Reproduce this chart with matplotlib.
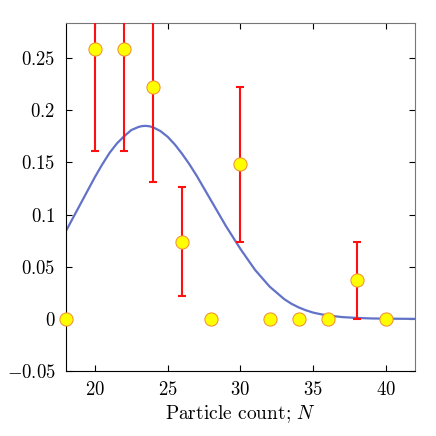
import numpy as np
import matplotlib
matplotlib.use("Agg")
import matplotlib.pyplot as plt

plt.rcParams['font.family'] = 'serif'
plt.rcParams['font.serif'] = ['cmr10']
plt.rcParams['mathtext.fontset'] = 'cm'
plt.rcParams['axes.formatter.use_mathtext'] = True

# measured fractions (k/27) and their errors
particle_n = [18, 20, 22, 24, 26, 28, 30, 32, 34, 36, 38, 40]
fraction = [0.0, 0.259, 0.259, 0.222, 0.074, 0.0, 0.148, 0.0, 0.0, 0.0, 0.037, 0.0]
frac_err = [0.0, 0.098, 0.098, 0.091, 0.052, 0.0, 0.074, 0.0, 0.0, 0.0, 0.037, 0.0]

# model curve
curve_n = [18, 18.5, 19, 19.5, 20, 20.5, 21, 21.5, 22, 22.5, 23, 23.25, 23.5, 23.75,
           24, 24.5, 25, 25.5, 26, 26.5, 27, 27.5, 28, 28.5, 29, 29.5, 30, 30.5,
           31, 31.5, 32, 32.5, 33, 33.5, 34, 34.5, 35, 35.5, 36, 37, 38, 39, 40,
           41, 42]
curve_p = [0.084, 0.097, 0.110, 0.123, 0.136, 0.148, 0.159, 0.168, 0.175, 0.181,
           0.1840, 0.1848, 0.1850, 0.1846, 0.1836, 0.180, 0.1745, 0.167, 0.158,
           0.148, 0.137, 0.125, 0.113, 0.101, 0.089, 0.078, 0.067, 0.057, 0.047,
           0.039, 0.031, 0.025, 0.019, 0.0145, 0.011, 0.0082, 0.006, 0.0045,
           0.0033, 0.0017, 0.0009, 0.0004, 0.0002, 0.0001, 0.0]

fig = plt.figure(figsize=(4.36, 4.36), dpi=100)
ax = fig.add_axes([0.151, 0.149, 0.801, 0.798])

ax.plot(curve_n, curve_p, color='#6272c8', lw=1.6, zorder=2,
        solid_joinstyle='round')

yerr = np.array(frac_err)
mask = yerr > 0
ax.errorbar(np.array(particle_n)[mask], np.array(fraction)[mask], yerr=yerr[mask],
            fmt='none', ecolor='#ff1010', elinewidth=1.5, capsize=2.6,
            capthick=1.5, zorder=3)
ax.plot(particle_n, fraction, 'o', ms=9.5, mfc='#ffff00', mec='#f08a30',
        mew=0.7, zorder=4, clip_on=False)

ax.set_xlim(18, 42)
ax.set_ylim(-0.05, 0.2835)
ax.set_xticks([20, 25, 30, 35, 40])
ax.set_yticks([-0.05, 0, 0.05, 0.1, 0.15, 0.2, 0.25])
ax.set_yticklabels(['$-0.05$', '$0$', '$0.05$', '$0.1$', '$0.15$', '$0.2$', '$0.25$'])
ax.set_xticklabels(['$20$', '$25$', '$30$', '$35$', '$40$'])
ax.tick_params(direction='in', top=True, right=True, length=4, width=0.8,
               labelsize=13.5, pad=7.5)
ax.spines['top'].set_color('#777777')
ax.spines['right'].set_color('#777777')
ax.set_xlabel('Particle count; $N$', fontsize=14, labelpad=3)

fig.savefig('out.png', dpi=100)
